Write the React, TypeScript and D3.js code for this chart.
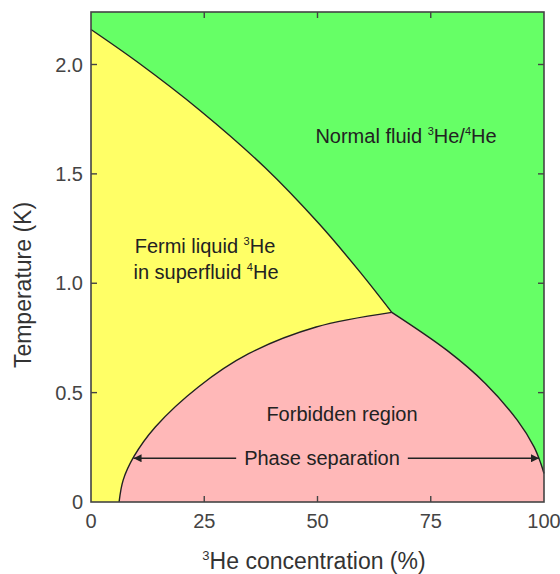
import React, { useRef, useEffect } from "react";
import * as d3 from "d3";

// lambda line (superfluid transition), concentration % vs temperature K
const lambdaX = [0, 10.4, 24, 38.4, 50.2, 59.0, 66.4];
const lambdaT = [2.16, 2.009, 1.791, 1.529, 1.275, 1.061, 0.867];

// phase separation curve, dilute (left) branch, from T=0 up to the tricritical point
const diluteX = [6.2, 7.1, 9.45, 14.2, 23.7, 34.8, 49.7, 66.4];
const diluteT = [0, 0.1, 0.207, 0.343, 0.526, 0.678, 0.8, 0.867];

// concentrated (right) branch, from the tricritical point down
const concX = [66.4, 78.6, 87.1, 94.1, 97.8, 99.3, 100];
const concT = [0.867, 0.693, 0.541, 0.374, 0.252, 0.176, 0.13];

const xTicks = [0, 25, 50, 75, 100];
const yTicks = [0, 0.5, 1.0, 1.5, 2.0];
const yTickLabels = ["0", "0.5", "1.0", "1.5", "2.0"];

const arrowT = 0.2;
const arrowX = [9.4, 98.9];

const GREEN = "#66ff66";
const YELLOW = "#ffff66";
const PINK = "#ffb8b8";
const FONT = "'Liberation Sans', Arial, Helvetica, sans-serif";

export default function App() {
  const svgRef = useRef<SVGSVGElement>(null);
  const width = 560;
  const height = 574;

  useEffect(() => {
    const svg = d3.select(svgRef.current);
    svg.selectAll("*").remove();

    const x = d3.scaleLinear().domain([0, 100]).range([91, 544]);
    const y = d3.scaleLinear().domain([0, 2.24]).range([502, 12]);

    const lam = lambdaX.map((v, i) => [v, lambdaT[i]] as [number, number]);
    const dil = diluteX.map((v, i) => [v, diluteT[i]] as [number, number]);
    const con = concX.map((v, i) => [v, concT[i]] as [number, number]);

    const pathOf = (pts: [number, number][]) =>
      d3
        .line<[number, number]>()
        .x((d) => x(d[0]))
        .y((d) => y(d[1]))
        .curve(d3.curveCatmullRom.alpha(0.5))(pts) as string;

    const defs = svg.append("defs");
    defs
      .append("marker")
      .attr("id", "ah")
      .attr("viewBox", "0 0 10 10")
      .attr("refX", 10)
      .attr("refY", 5)
      .attr("markerWidth", 11)
      .attr("markerHeight", 8)
      .attr("markerUnits", "userSpaceOnUse")
      .attr("orient", "auto-start-reverse")
      .append("path")
      .attr("d", "M0,0L10,5L0,10Z")
      .attr("fill", "#222");

    // green background (normal fluid)
    svg
      .append("rect")
      .attr("x", x(0))
      .attr("y", y(2.24))
      .attr("width", x(100) - x(0))
      .attr("height", y(0) - y(2.24))
      .attr("fill", GREEN);

    const lamPath = pathOf(lam);
    const dilPath = pathOf(dil);
    const conPath = pathOf(con);

    // yellow region: everything under the lambda line (pink drawn on top)
    const tri = lam[lam.length - 1];
    svg
      .append("path")
      .attr(
        "d",
        `M${x(0)},${y(0)}L${x(0)},${y(lambdaT[0])}` +
          lamPath.replace(/^M/, "L") +
          `L${x(tri[0])},${y(0)}Z`
      )
      .attr("fill", YELLOW);

    // pink forbidden region
    svg
      .append("path")
      .attr(
        "d",
        dilPath + conPath.replace(/^M/, "L") + `L${x(100)},${y(0)}Z`
      )
      .attr("fill", PINK);

    // boundary lines
    [lamPath, dilPath, conPath].forEach((d) =>
      svg
        .append("path")
        .attr("d", d)
        .attr("fill", "none")
        .attr("stroke", "#222")
        .attr("stroke-width", 1.4)
    );

    // frame and inward ticks
    const axisColor = "#444";
    svg
      .append("rect")
      .attr("x", x(0))
      .attr("y", y(2.24))
      .attr("width", x(100) - x(0))
      .attr("height", y(0) - y(2.24))
      .attr("fill", "none")
      .attr("stroke", axisColor)
      .attr("stroke-width", 1.6);

    const tickLen = 6;
    xTicks.slice(1, -1).forEach((t) => {
      svg
        .append("line")
        .attr("x1", x(t))
        .attr("x2", x(t))
        .attr("y1", y(0))
        .attr("y2", y(0) - tickLen)
        .attr("stroke", axisColor)
        .attr("stroke-width", 1.4);
      svg
        .append("line")
        .attr("x1", x(t))
        .attr("x2", x(t))
        .attr("y1", y(2.24))
        .attr("y2", y(2.24) + tickLen)
        .attr("stroke", axisColor)
        .attr("stroke-width", 1.4);
    });
    yTicks.slice(1).forEach((t) => {
      svg
        .append("line")
        .attr("x1", x(0))
        .attr("x2", x(0) + tickLen)
        .attr("y1", y(t))
        .attr("y2", y(t))
        .attr("stroke", axisColor)
        .attr("stroke-width", 1.4);
      svg
        .append("line")
        .attr("x1", x(100))
        .attr("x2", x(100) - tickLen)
        .attr("y1", y(t))
        .attr("y2", y(t))
        .attr("stroke", axisColor)
        .attr("stroke-width", 1.4);
    });

    // tick labels
    xTicks.forEach((t) =>
      svg
        .append("text")
        .attr("x", x(t))
        .attr("y", 528)
        .attr("text-anchor", "middle")
        .attr("font-family", FONT)
        .attr("font-size", 20)
        .attr("fill", "#444")
        .text(String(t))
    );
    yTicks.forEach((t, i) =>
      svg
        .append("text")
        .attr("x", 83)
        .attr("y", y(t))
        .attr("dy", "0.36em")
        .attr("text-anchor", "end")
        .attr("font-family", FONT)
        .attr("font-size", 20)
        .attr("fill", "#444")
        .text(yTickLabels[i])
    );

    // axis titles
    const xt = svg
      .append("text")
      .attr("x", 314)
      .attr("y", 569)
      .attr("text-anchor", "middle")
      .attr("font-family", FONT)
      .attr("font-size", 23)
      .attr("fill", "#333");
    xt.append("tspan").attr("font-size", 13).attr("dy", -9).text("3");
    xt.append("tspan").attr("dy", 9).text("He concentration (%)");

    svg
      .append("text")
      .attr("transform", `translate(31,285) rotate(-90)`)
      .attr("text-anchor", "middle")
      .attr("font-family", FONT)
      .attr("font-size", 23)
      .attr("fill", "#333")
      .text("Temperature (K)");

    // region labels
    const label = (cx: number, cy: number, parts: [string, boolean][]) => {
      const t = svg
        .append("text")
        .attr("x", cx)
        .attr("y", cy)
        .attr("text-anchor", "middle")
        .attr("font-family", FONT)
        .attr("font-size", 20)
        .attr("fill", "#222");
      let raised = false;
      parts.forEach(([s, sup]) => {
        const sp = t.append("tspan").text(s);
        if (sup && !raised) {
          sp.attr("dy", -8).attr("font-size", 11);
          raised = true;
        } else if (sup) {
          sp.attr("font-size", 11);
        } else if (raised) {
          sp.attr("dy", 8);
          raised = false;
        }
      });
      return t;
    };

    label(406, 143, [
      ["Normal fluid ", false],
      ["3", true],
      ["He/", false],
      ["4", true],
      ["He", false],
    ]);
    label(205, 253, [
      ["Fermi liquid ", false],
      ["3", true],
      ["He", false],
    ]);
    label(206, 279, [
      ["in superfluid ", false],
      ["4", true],
      ["He", false],
    ]);
    label(342, 421, [["Forbidden region", false]]);

    // phase separation arrow, interrupted by its label
    const ps = svg
      .append("text")
      .attr("x", 322)
      .attr("y", y(arrowT))
      .attr("dy", "0.36em")
      .attr("text-anchor", "middle")
      .attr("font-family", FONT)
      .attr("font-size", 20)
      .attr("fill", "#222")
      .text("Phase separation");
    const bb = (ps.node() as SVGTextElement).getBBox();
    const gap = 8;
    svg
      .append("line")
      .attr("x1", bb.x - gap)
      .attr("x2", x(arrowX[0]))
      .attr("y1", y(arrowT))
      .attr("y2", y(arrowT))
      .attr("stroke", "#222")
      .attr("stroke-width", 1.4)
      .attr("marker-end", "url(#ah)");
    svg
      .append("line")
      .attr("x1", bb.x + bb.width + gap)
      .attr("x2", x(arrowX[1]))
      .attr("y1", y(arrowT))
      .attr("y2", y(arrowT))
      .attr("stroke", "#222")
      .attr("stroke-width", 1.4)
      .attr("marker-end", "url(#ah)");
  }, []);

  return (
    <svg
      ref={svgRef}
      width={width}
      height={height}
      style={{ position: "absolute", left: 0, top: 0, background: "#fff" }}
    ></svg>
  );
}
